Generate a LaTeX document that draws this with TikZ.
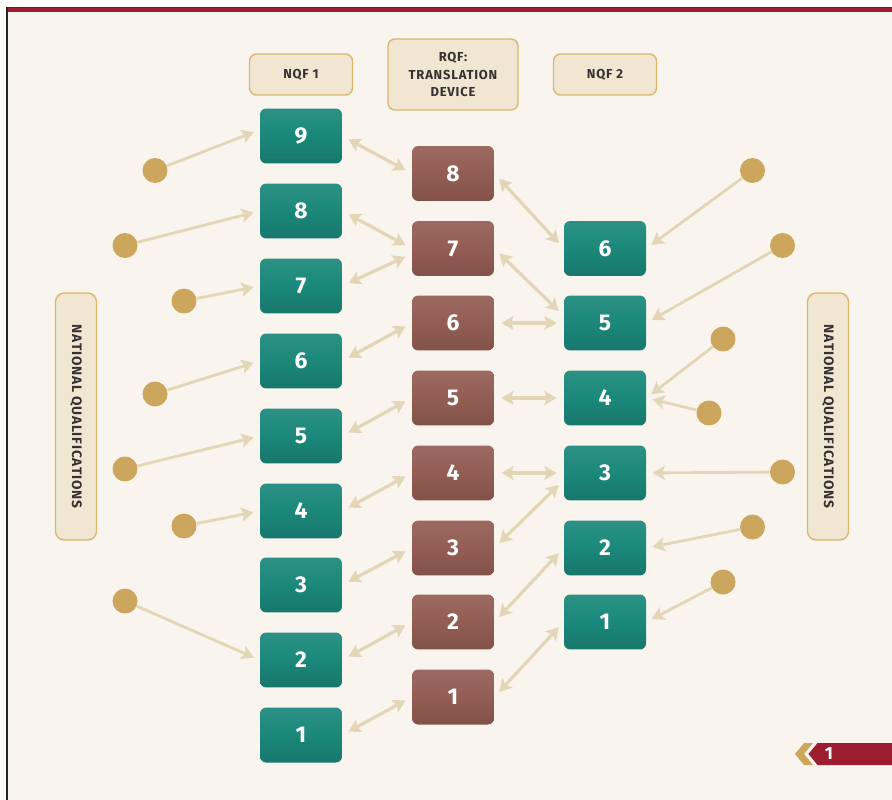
\documentclass[tikz,border=0pt]{standalone}
\usepackage{fontspec}
\setmainfont{Fira Sans}
\newfontfamily\hdrfont[LetterSpace=6]{Fira Sans}
\usetikzlibrary{arrows.meta}
\definecolor{paper}{HTML}{F9F4ED}
\definecolor{tealbox}{HTML}{1A887A}
\definecolor{brownbox}{HTML}{935D53}
\definecolor{golddot}{HTML}{CBA65C}
\definecolor{linkline}{HTML}{E3D6B6}
\definecolor{headfill}{HTML}{F1E6D1}
\definecolor{headline}{HTML}{D8B76F}
\definecolor{headtext}{HTML}{333333}
\definecolor{pagered}{HTML}{9B1D2F}
\begin{document}
\begin{tikzpicture}[x=0.02cm, y=-0.02cm,
	lvl/.style={rounded corners=3.5pt, minimum width=1.64cm, minimum height=1.1cm, text=white, font=\fontsize{13}{14}\selectfont\bfseries},
	nqf/.style={lvl, top color=tealbox!92!white, bottom color=tealbox!88!black, middle color=tealbox},
	rqf/.style={lvl, top color=brownbox!92!white, bottom color=brownbox!88!black, middle color=brownbox},
	hdr/.style={draw=headline, fill=headfill, line width=0.8pt, rounded corners=4pt, text=headtext, align=center, font=\hdrfont\fontsize{7.4}{9.9}\selectfont\bfseries},
	side/.style={hdr, rotate=-90, minimum width=4.94cm, minimum height=0.82cm, rounded corners=5pt, font=\hdrfont\fontsize{7.8}{10}\selectfont\bfseries},
	qdot/.style={circle, fill=golddot, minimum size=0.5cm, inner sep=0pt},
	link/.style={draw=linkline, line width=1.8pt, {Stealth[length=7pt,width=8pt,inset=1.5pt]}-{Stealth[length=7pt,width=8pt,inset=1.5pt]}, shorten <=4pt, shorten >=4pt},
	dotarrow/.style={draw=linkline, line width=1.6pt, -{Stealth[length=7pt,width=8pt,inset=1.5pt]}, shorten >=3.5pt}]
	\useasboundingbox (0, 0) rectangle (892, 800);
	\fill[white] (0, 0) rectangle (892, 800);
	\fill[paper] (8, 8) rectangle (892, 800);
	\fill[pagered] (8, 8) rectangle (892, 12.5);
	\draw[line width=0.6pt, headtext] (6, 7.5) -- (892, 7.5);
	\draw[line width=1.2pt, black!85] (7, 7) -- (7, 800);
	\node (hq1) at (301, 74.5)[hdr, minimum width=2.06cm, minimum height=0.82cm] {NQF 1};
	\node (hrqf) at (453, 74.5)[hdr, minimum width=2.6cm, minimum height=1.42cm] {RQF:\\TRANSLATION\\DEVICE};
	\node (hq2) at (605, 74.5)[hdr, minimum width=2.06cm, minimum height=0.82cm] {NQF 2};
	\node (natl) at (76, 416.5)[side] {NATIONAL QUALIFICATIONS};
	\node (natr) at (828, 416.5)[side] {NATIONAL QUALIFICATIONS};
	\node (a9) at (301, 136)[nqf] {9};
	\node (a8) at (301, 211)[nqf] {8};
	\node (a7) at (301, 286)[nqf] {7};
	\node (a6) at (301, 361)[nqf] {6};
	\node (a5) at (301, 436)[nqf] {5};
	\node (a4) at (301, 511)[nqf] {4};
	\node (a3) at (301, 585)[nqf] {3};
	\node (a2) at (301, 660)[nqf] {2};
	\node (a1) at (301, 735)[nqf] {1};
	\node (r8) at (453, 173.5)[rqf] {8};
	\node (r7) at (453, 248.5)[rqf] {7};
	\node (r6) at (453, 323)[rqf] {6};
	\node (r5) at (453, 398)[rqf] {5};
	\node (r4) at (453, 473)[rqf] {4};
	\node (r3) at (453, 548)[rqf] {3};
	\node (r2) at (453, 622)[rqf] {2};
	\node (r1) at (453, 697)[rqf] {1};
	\node (b6) at (605, 248.5)[nqf] {6};
	\node (b5) at (605, 323)[nqf] {5};
	\node (b4) at (605, 398)[nqf] {4};
	\node (b3) at (605, 473)[nqf] {3};
	\node (b2) at (605, 548)[nqf] {2};
	\node (b1) at (605, 622)[nqf] {1};
	\node (da9) at (155, 170.5)[qdot] {};
	\node (da8) at (125, 245.5)[qdot] {};
	\node (da7) at (184, 301)[qdot] {};
	\node (da6) at (155, 394)[qdot] {};
	\node (da5) at (125, 469)[qdot] {};
	\node (da4) at (184, 526)[qdot] {};
	\node (da2) at (125, 601)[qdot] {};
	\node (db6) at (752.5, 170.5)[qdot] {};
	\node (db5) at (782.5, 245.5)[qdot] {};
	\node (db4) at (723, 339)[qdot] {};
	\node (dc4) at (709, 413)[qdot] {};
	\node (db3) at (782.5, 472)[qdot] {};
	\node (db2) at (752.5, 527)[qdot] {};
	\node (db1) at (723, 582)[qdot] {};
	\draw[dotarrow] (da9) -- ([yshift=3.5pt]a9.west);
	\draw[dotarrow] (da8) -- (a8.west);
	\draw[dotarrow] (da7) -- (a7.west);
	\draw[dotarrow] (da6) -- (a6.west);
	\draw[dotarrow] (da5) -- (a5.west);
	\draw[dotarrow] (da4) -- (a4.west);
	\draw[dotarrow] (da2) -- (a2.west);
	\draw[dotarrow] (db6) -- (b6.east);
	\draw[dotarrow] (db5) -- (b5.east);
	\draw[dotarrow] (db4) -- (b4.east);
	\draw[dotarrow] (dc4) -- (b4.east);
	\draw[dotarrow] (db3) -- (b3.east);
	\draw[dotarrow] (db2) -- (b2.east);
	\draw[dotarrow] (db1) -- (b1.east);
	\draw[link] (a9.east) -- (r8.west);
	\draw[link] (a8.east) -- (r7.west);
	\draw[link] (a7.east) -- ([yshift=-3pt]r7.west);
	\draw[link] (a6.east) -- (r6.west);
	\draw[link] (a5.east) -- (r5.west);
	\draw[link] (a4.east) -- (r4.west);
	\draw[link] (a3.east) -- (r3.west);
	\draw[link] (a2.east) -- (r2.west);
	\draw[link] (a1.east) -- (r1.west);
	\draw[link] (r8.east) -- (b6.west);
	\draw[link] (r7.east) -- ([yshift=4pt]b5.west);
	\draw[link] (r6.east) -- (b5.west);
	\draw[link] (r5.east) -- (b4.west);
	\draw[link] (r4.east) -- (b3.west);
	\draw[link] (r3.east) -- ([yshift=-4pt]b3.west);
	\draw[link] (r2.east) -- (b2.west);
	\draw[link] (r1.east) -- (b1.west);
	\fill[golddot] (795, 754) -- (804, 743) -- (813, 743) -- (804, 754) -- (813, 765) -- (804, 765) -- cycle;
	\fill[pagered] (808.5, 754) -- (817.5, 743) -- (892, 743) -- (892, 765) -- (817.5, 765) -- cycle;
	\node (pg) at (829, 754)[text=white, font=\fontsize{10}{12}\selectfont\bfseries] {1};
\end{tikzpicture}
\end{document}
